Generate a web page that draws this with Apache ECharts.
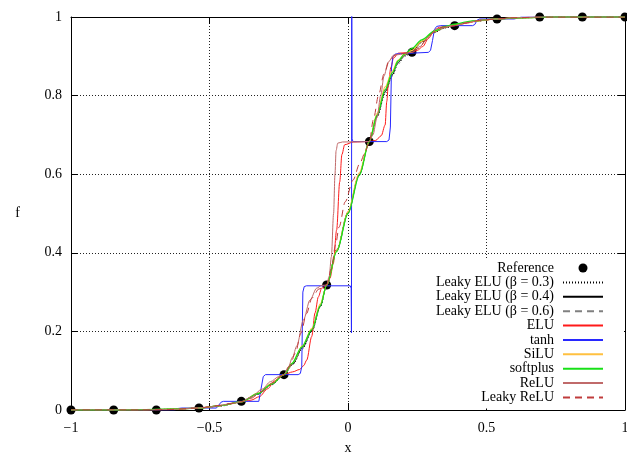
<!DOCTYPE html>
<html>
<head>
<meta charset="utf-8">
<script src="https://cdn.jsdelivr.net/npm/echarts@6/dist/echarts.min.js"></script>
<style>
html,body{margin:0;padding:0;background:#fff;}
#chart{width:627px;height:452px;}
</style>
</head>
<body>
<div id="chart"></div>
<script>
// ---- Data ----
const xTicks = [-1, -0.5, 0, 0.5, 1];
const yTicks = [0, 0.2, 0.4, 0.6, 0.8, 1];

const refX = [-1, -0.846, -0.692, -0.538, -0.385, -0.231, -0.077, 0.077, 0.231, 0.385, 0.538, 0.692, 0.846, 1];
const refF = [0, 0, 0, 0.005, 0.022, 0.09, 0.318, 0.683, 0.91, 0.978, 0.995, 1, 1, 1];

const leakyElu03 = [[-1,0],[-0.846,0],[-0.7,0.001],[-0.6,0.003],[-0.538,0.005],[-0.46,0.010],[-0.385,0.021],[-0.324,0.040],[-0.276,0.064],[-0.231,0.090],[-0.2,0.115],[-0.165,0.155],[-0.13,0.200],[-0.1,0.262],[-0.077,0.318],[-0.04,0.410],[0,0.505],[0.04,0.600],[0.077,0.683],[0.105,0.745],[0.134,0.805],[0.16,0.850],[0.18,0.880],[0.205,0.900],[0.231,0.910],[0.266,0.935],[0.31,0.960],[0.35,0.972],[0.385,0.978],[0.45,0.988],[0.538,0.995],[0.62,0.998],[0.75,1],[1,1]];
const leakyElu04 = [[-1,0],[-0.846,0],[-0.7,0.001],[-0.6,0.003],[-0.538,0.005],[-0.46,0.011],[-0.385,0.021],[-0.324,0.041],[-0.276,0.065],[-0.231,0.090],[-0.2,0.117],[-0.165,0.158],[-0.13,0.203],[-0.1,0.264],[-0.077,0.318],[-0.04,0.407],[0,0.502],[0.04,0.598],[0.077,0.683],[0.105,0.748],[0.134,0.810],[0.16,0.853],[0.18,0.884],[0.205,0.903],[0.231,0.912],[0.266,0.937],[0.31,0.961],[0.35,0.973],[0.385,0.979],[0.45,0.989],[0.538,0.995],[0.62,0.998],[0.75,1],[1,1]];
const leakyElu06 = [[-1,0],[-0.846,0],[-0.7,0.001],[-0.6,0.003],[-0.538,0.005],[-0.46,0.011],[-0.385,0.021],[-0.324,0.042],[-0.276,0.066],[-0.231,0.090],[-0.2,0.118],[-0.165,0.160],[-0.13,0.205],[-0.1,0.266],[-0.077,0.318],[-0.04,0.405],[0,0.500],[0.04,0.596],[0.077,0.683],[0.105,0.750],[0.134,0.813],[0.16,0.856],[0.18,0.886],[0.205,0.905],[0.231,0.914],[0.266,0.939],[0.31,0.963],[0.35,0.974],[0.385,0.980],[0.45,0.989],[0.538,0.995],[0.62,0.998],[0.75,1],[1,1]];
const elu = [[-1,0],[-0.75,0],[-0.65,0.001],[-0.538,0.005],[-0.5,0.007],[-0.46,0.011],[-0.42,0.016],[-0.385,0.021],[-0.35,0.025],[-0.32,0.034],[-0.29,0.054],[-0.265,0.074],[-0.245,0.086],[-0.231,0.090],[-0.2,0.097],[-0.175,0.103],[-0.16,0.113],[-0.149,0.127],[-0.131,0.187],[-0.119,0.247],[-0.107,0.288],[-0.095,0.310],[-0.077,0.318],[-0.065,0.335],[-0.053,0.373],[-0.041,0.458],[-0.03,0.580],[-0.022,0.650],[-0.012,0.675],[0.02,0.682],[0.077,0.683],[0.1,0.686],[0.12,0.698],[0.134,0.725],[0.14,0.785],[0.146,0.835],[0.155,0.872],[0.164,0.895],[0.182,0.908],[0.231,0.910],[0.25,0.915],[0.27,0.925],[0.29,0.945],[0.31,0.965],[0.33,0.974],[0.385,0.978],[0.43,0.985],[0.48,0.992],[0.538,0.995],[0.6,0.998],[0.7,1],[1,1]];
const tanhF = [[-1,0],[-0.63,0],[-0.622,0.001],[-0.612,0.004],[-0.6,0.005],[-0.475,0.005],[-0.468,0.007],[-0.458,0.020],[-0.45,0.022],[-0.322,0.022],[-0.315,0.027],[-0.306,0.085],[-0.298,0.090],[-0.18,0.090],[-0.172,0.093],[-0.167,0.110],[-0.163,0.300],[-0.158,0.314],[-0.15,0.316],[0.008,0.316],[0.0115,0.310],[0.0125,0.196],[0.0135,1.1],[0.0145,0.690],[0.018,0.683],[0.14,0.683],[0.148,0.687],[0.153,0.720],[0.157,0.870],[0.162,0.900],[0.172,0.906],[0.29,0.910],[0.298,0.915],[0.305,0.940],[0.312,0.968],[0.32,0.976],[0.335,0.978],[0.45,0.978],[0.458,0.981],[0.466,0.992],[0.475,0.995],[0.6,0.995],[0.612,0.997],[0.625,1],[1,1]];
const silu = [[-1,0],[-0.846,0],[-0.7,0.001],[-0.6,0.003],[-0.538,0.005],[-0.46,0.011],[-0.385,0.021],[-0.324,0.043],[-0.276,0.067],[-0.231,0.090],[-0.2,0.120],[-0.165,0.163],[-0.13,0.208],[-0.1,0.270],[-0.077,0.318],[-0.04,0.408],[0,0.505],[0.04,0.603],[0.077,0.683],[0.105,0.755],[0.134,0.822],[0.16,0.862],[0.18,0.890],[0.205,0.905],[0.231,0.915],[0.266,0.938],[0.31,0.962],[0.35,0.974],[0.385,0.980],[0.45,0.989],[0.538,0.995],[0.62,0.998],[0.75,1],[1,1]];
const softplus = [[-1,0],[-0.846,0],[-0.75,0.001],[-0.65,0.002],[-0.538,0.005],[-0.46,0.011],[-0.385,0.021],[-0.324,0.042],[-0.276,0.066],[-0.231,0.090],[-0.203,0.118],[-0.167,0.160],[-0.131,0.204],[-0.1,0.265],[-0.077,0.318],[-0.041,0.403],[0,0.500],[0.041,0.597],[0.077,0.683],[0.105,0.750],[0.134,0.815],[0.16,0.858],[0.181,0.888],[0.205,0.906],[0.231,0.920],[0.266,0.942],[0.314,0.965],[0.35,0.976],[0.385,0.982],[0.45,0.990],[0.538,0.995],[0.62,0.998],[0.75,1],[1,1]];
const relu = [[-1,0],[-0.75,0],[-0.65,0.001],[-0.538,0.005],[-0.5,0.008],[-0.46,0.012],[-0.42,0.017],[-0.385,0.021],[-0.35,0.033],[-0.31,0.053],[-0.28,0.072],[-0.25,0.085],[-0.231,0.090],[-0.215,0.110],[-0.2,0.135],[-0.185,0.163],[-0.161,0.229],[-0.137,0.280],[-0.113,0.310],[-0.095,0.317],[-0.077,0.318],[-0.068,0.340],[-0.06,0.390],[-0.052,0.500],[-0.047,0.600],[-0.043,0.660],[-0.037,0.679],[-0.02,0.682],[0.077,0.683],[0.09,0.700],[0.105,0.745],[0.118,0.800],[0.13,0.850],[0.145,0.885],[0.165,0.903],[0.231,0.910],[0.26,0.925],[0.29,0.948],[0.32,0.970],[0.385,0.978],[0.43,0.986],[0.48,0.992],[0.538,0.995],[0.6,0.998],[0.7,1],[1,1]];
const leakyRelu = [[-1,0],[-0.75,0],[-0.65,0.001],[-0.538,0.005],[-0.5,0.008],[-0.46,0.012],[-0.42,0.017],[-0.385,0.021],[-0.35,0.030],[-0.31,0.048],[-0.27,0.070],[-0.231,0.090],[-0.21,0.112],[-0.19,0.145],[-0.17,0.195],[-0.15,0.245],[-0.13,0.285],[-0.105,0.308],[-0.077,0.318],[-0.06,0.360],[-0.045,0.420],[-0.032,0.466],[-0.01,0.530],[0.018,0.585],[0.043,0.628],[0.061,0.654],[0.077,0.683],[0.092,0.740],[0.11,0.800],[0.13,0.855],[0.15,0.890],[0.175,0.905],[0.231,0.910],[0.255,0.920],[0.28,0.940],[0.31,0.962],[0.34,0.974],[0.385,0.978],[0.43,0.985],[0.48,0.992],[0.538,0.995],[0.6,0.998],[0.7,1],[1,1]];

// ---- Chart ----
const FONT = 'Liberation Serif';
const chart = echarts.init(document.getElementById('chart'), null, {renderer: 'canvas'});

function fmt(v) { return String(v).replace('-', '\u2212'); }

function lineSeries(name, data, color, type, width, smooth) {
  return {
    name: name, type: 'line', data: data, symbol: 'none',
    smooth: smooth ? 0.3 : false, smoothMonotone: 'x',
    clip: true, animation: false,
    lineStyle: {color: color, width: width, type: type},
    itemStyle: {color: color, opacity: 0},
    emphasis: {disabled: true}
  };
}

const refData = refX.map((x, i) => [x, refF[i]]);
const lineNames = ['Leaky ELU (\u03b2 = 0.3)', 'Leaky ELU (\u03b2 = 0.4)', 'Leaky ELU (\u03b2 = 0.6)', 'ELU', 'tanh', 'SiLU', 'softplus', 'ReLU', 'Leaky ReLU'];

const option = {
  animation: false,
  backgroundColor: '#fff',
  grid: {left: 71, right: 2, top: 17, bottom: 42, containLabel: false, outerBoundsMode: 'none'},
  xAxis: [{
    type: 'value', min: -1, max: 1, interval: 0.5,
    position: 'bottom',
    name: 'x', nameLocation: 'middle', nameGap: 31,
    nameTextStyle: {fontFamily: FONT, fontSize: 14, color: '#000'},
    axisLine: {show: true, onZero: false, lineStyle: {color: '#000', width: 1}},
    axisTick: {show: true, inside: true, length: 7, lineStyle: {color: '#000'}},
    axisLabel: {fontFamily: FONT, fontSize: 14, color: '#000', margin: 11, formatter: fmt},
    splitLine: {show: true, lineStyle: {color: '#222', width: 1, type: [1, 2]}}
  }, {
    type: 'value', min: -1, max: 1, interval: 0.5, position: 'top',
    axisLine: {show: true, onZero: false, lineStyle: {color: '#000', width: 1}},
    axisTick: {show: true, inside: true, length: 7, lineStyle: {color: '#000'}},
    axisLabel: {show: false}, splitLine: {show: false}
  }],
  yAxis: [{
    type: 'value', min: 0, max: 1, interval: 0.2,
    position: 'left',
    name: 'f', nameLocation: 'middle', nameGap: 51, nameRotate: 0,
    nameTextStyle: {fontFamily: FONT, fontSize: 14, color: '#000'},
    axisLine: {show: true, onZero: false, lineStyle: {color: '#000', width: 1}},
    axisTick: {show: true, inside: true, length: 7, lineStyle: {color: '#000'}},
    axisLabel: {fontFamily: FONT, fontSize: 14, color: '#000', margin: 9, formatter: fmt},
    splitLine: {show: true, lineStyle: {color: '#222', width: 1, type: [1, 2]}}
  }, {
    type: 'value', min: 0, max: 1, interval: 0.2, position: 'right',
    axisLine: {show: true, onZero: false, lineStyle: {color: '#000', width: 1}},
    axisTick: {show: true, inside: true, length: 7, lineStyle: {color: '#000'}},
    axisLabel: {show: false}, splitLine: {show: false}
  }],
  legend: {
    orient: 'vertical', align: 'right',
    right: 3, top: 259,
    padding: [2, 20, 4, 46],
    backgroundColor: '#fff',
    itemWidth: 40, itemHeight: 9, itemGap: 0.38,
    selectedMode: false,
    textStyle: {fontFamily: FONT, fontSize: 14, color: '#000', lineHeight: 14, padding: [0, 4, 0, 0]},
    data: [{name: 'Reference', itemStyle: {opacity: 1, color: '#000'}}].concat(
      lineNames.map(n => ({name: n, itemStyle: {opacity: 0}})))
  },
  series: [
    {
      name: 'Reference', type: 'scatter', data: refData,
      symbol: 'circle', symbolSize: 9, animation: false,
      itemStyle: {color: '#000', opacity: 1}, emphasis: {disabled: true}, z: 2
    },
    lineSeries(lineNames[0], leakyElu03, '#000', [1, 2], 1, true),
    lineSeries(lineNames[1], leakyElu04, '#000', 'solid', 1, true),
    lineSeries(lineNames[2], leakyElu06, '#808080', [7, 5], 1, true),
    lineSeries(lineNames[3], elu, '#ff1a1a', 'solid', 1, true),
    lineSeries(lineNames[4], tanhF, '#2828ff', 'solid', 1, false),
    lineSeries(lineNames[5], silu, '#ffc040', 'solid', 1.2, true),
    lineSeries(lineNames[6], softplus, '#18e018', 'solid', 1.3, true),
    lineSeries(lineNames[7], relu, '#c06a6a', 'solid', 1, true),
    lineSeries(lineNames[8], leakyRelu, '#c03c3c', [7, 5], 1, true)
  ]
};
chart.setOption(option);
</script>
</body>
</html>
